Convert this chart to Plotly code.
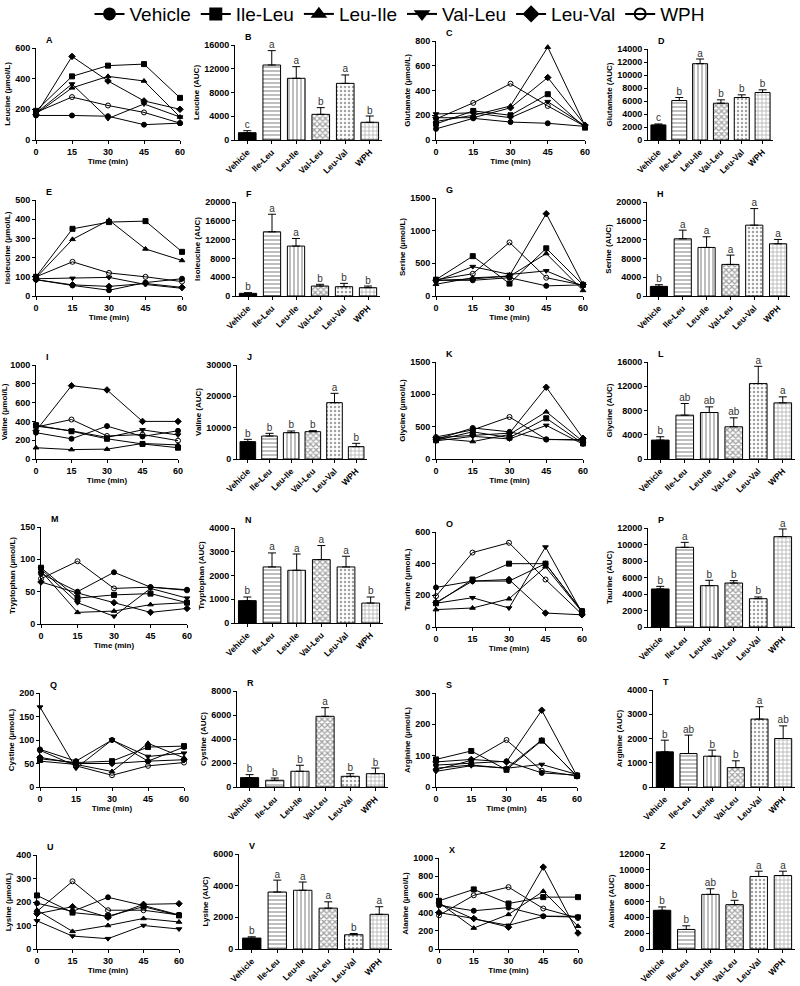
"""
Plasma amino acid time courses (µmol/L) and AUC bars after oral dipeptides.
24 panels in a 6 x 4 grid, GraphPad-like black & white styling.
"""
import plotly.graph_objects as go

# ── Groups, sampling times ────────────────────────────────────────────────
GROUPS = ["Vehicle", "Ile-Leu", "Leu-Ile", "Val-Leu", "Leu-Val", "WPH"]
TIMES = [0, 15, 30, 45, 60]

# ── Time-course values, one row per group (order as GROUPS) ───────────────
LEUCINE_T = [[160, 160, 155, 100, 110], [190, 415, 485, 495, 275], [170, 340, 415, 385, 150],
             [175, 365, 140, 235, 150], [165, 545, 385, 255, 200], [180, 280, 225, 180, 110]]
GLUTAMATE_T = [[90, 175, 145, 135, 110], [130, 235, 200, 370, 100], [150, 200, 275, 750, 115],
               [210, 220, 180, 310, 115], [180, 180, 260, 505, 120], [170, 300, 455, 275, 110]]
ISOLEUCINE_T = [[85, 55, 30, 70, 90], [100, 350, 385, 390, 230], [95, 295, 395, 245, 185],
                [90, 92, 97, 60, 40], [85, 58, 50, 65, 45], [100, 178, 120, 100, 75]]
SERINE_T = [[240, 240, 280, 155, 170], [250, 610, 190, 730, 170], [180, 280, 300, 650, 85],
            [230, 450, 330, 385, 150], [240, 260, 310, 1260, 175], [250, 340, 820, 280, 165]]
VALINE_T = [[280, 215, 350, 240, 300], [360, 295, 215, 160, 120], [120, 100, 105, 165, 150],
            [350, 300, 230, 310, 255], [300, 780, 735, 400, 400], [340, 420, 245, 260, 195]]
GLYCINE_T = [[300, 480, 420, 300, 300], [290, 420, 330, 630, 240], [320, 270, 380, 730, 270],
             [280, 350, 310, 520, 230], [330, 370, 400, 1110, 320], [340, 450, 650, 305, 290]]
TRYPTOPHAN_T = [[78, 50, 80, 57, 53], [87, 40, 45, 47, 33], [82, 18, 20, 30, 33],
                [85, 33, 12, 55, 40], [65, 48, 33, 18, 24], [70, 97, 55, 57, 52]]
TAURINE_T = [[250, 290, 290, 400, 100], [150, 300, 400, 400, 100], [110, 120, 178, 380, 95],
             [150, 185, 120, 505, 90], [155, 290, 300, 88, 77], [195, 470, 532, 300, 80]]
CYSTINE_T = [[80, 55, 100, 55, 85], [60, 52, 55, 85, 87], [55, 48, 33, 93, 62],
             [170, 40, 100, 65, 72], [63, 50, 50, 55, 58], [78, 45, 25, 45, 52]]
ARGININE_T = [[70, 75, 82, 45, 38], [88, 115, 55, 148, 35], [60, 70, 60, 150, 33],
              [50, 68, 60, 72, 40], [80, 88, 80, 245, 35], [55, 85, 150, 52, 35]]
LYSINE_T = [[195, 160, 220, 185, 145], [228, 155, 140, 180, 143], [165, 75, 100, 130, 115],
            [120, 55, 44, 100, 85], [150, 180, 135, 190, 193], [160, 288, 165, 165, 145]]
ALANINE_T = [[480, 420, 455, 360, 350], [530, 655, 500, 570, 570], [510, 230, 380, 635, 250],
             [500, 330, 260, 360, 360], [400, 335, 240, 900, 175], [370, 590, 680, 445, 340]]

# ── AUC means, SEM and significance letters ───────────────────────────────
LEUCINE_AUC = [1230, 12630, 10390, 4320, 9540, 2980]
LEUCINE_SEM = [340, 2420, 1960, 1130, 1410, 1060]
LEUCINE_SIG = ["c", "a", "a", "b", "a", "b"]
GLUTAMATE_AUC = [2320, 6070, 11740, 5660, 6540, 7310]
GLUTAMATE_SEM = [150, 470, 720, 520, 410, 410]
GLUTAMATE_SIG = ["c", "b", "a", "b", "b", "b"]
ISOLEUCINE_AUC = [570, 13660, 10620, 2120, 1980, 1770]
ISOLEUCINE_SEM = [140, 3740, 1620, 360, 710, 350]
ISOLEUCINE_SIG = ["b", "a", "a", "b", "b", "b"]
SERINE_AUC = [2050, 12170, 10330, 6720, 15070, 11110]
SERINE_SEM = [350, 1840, 2270, 1980, 3530, 920]
SERINE_SIG = ["b", "a", "a", "a", "a", "a"]
VALINE_AUC = [5530, 7340, 8400, 8720, 17980, 3940]
VALINE_SEM = [750, 850, 540, 320, 2980, 1060]
VALINE_SIG = ["b", "b", "b", "b", "a", "b"]
GLYCINE_AUC = [3120, 7230, 7670, 5310, 12440, 9260]
GLYCINE_SEM = [550, 1920, 930, 1480, 2850, 990]
GLYCINE_SIG = ["b", "ab", "ab", "ab", "a", "a"]
TRYPTOPHAN_AUC = [940, 2360, 2220, 2670, 2360, 840]
TRYPTOPHAN_SEM = [155, 590, 685, 590, 450, 255]
TRYPTOPHAN_SIG = ["b", "a", "a", "a", "a", "b"]
TAURINE_AUC = [4610, 9660, 5010, 5330, 3430, 10950]
TAURINE_SEM = [320, 600, 650, 290, 210, 930]
TAURINE_SIG = ["b", "a", "b", "b", "b", "a"]
CYSTINE_AUC = [780, 560, 1310, 5890, 890, 1110]
CYSTINE_SEM = [250, 190, 500, 720, 220, 470]
CYSTINE_SIG = ["b", "b", "b", "a", "b", "b"]
ARGININE_AUC = [1450, 1380, 1270, 800, 2800, 2000]
ARGININE_SEM = [480, 760, 250, 280, 510, 520]
ARGININE_SIG = ["b", "ab", "b", "b", "a", "ab"]
LYSINE_AUC = [690, 3600, 3710, 2580, 900, 2190]
LYSINE_SEM = [80, 750, 520, 400, 80, 480]
LYSINE_SIG = ["b", "a", "a", "a", "b", "a"]
ALANINE_AUC = [4890, 2470, 6900, 5600, 9160, 9280]
ALANINE_SEM = [420, 460, 710, 550, 670, 550]
ALANINE_SIG = ["b", "b", "ab", "b", "a", "a"]

# ── Styling ────────────────────────────────────────────────────────────────
W, H = 800, 986
FONT = "Liberation Sans, Arial, sans-serif"
SYMBOLS = ["circle", "square", "triangle-up", "triangle-down", "diamond", "circle-open"]
PATTERNS = ["", "-", "|", "x", ".", "+"]
SOLIDITY = [0.3, 0.35, 0.35, 0.55, 0.3, 0.3]
FILLS = ["black"] + ["white"] * 5

# (panel, kind, amino acid, data, y max, y dtick) in reading order
PANELS = [
    ("A", "line", "Leucine", LEUCINE_T, 600, 200),
    ("B", "bar", "Leucine", (LEUCINE_AUC, LEUCINE_SEM, LEUCINE_SIG), 16000, 4000),
    ("C", "line", "Glutamate", GLUTAMATE_T, 800, 200),
    ("D", "bar", "Glutamate", (GLUTAMATE_AUC, GLUTAMATE_SEM, GLUTAMATE_SIG), 14000, 2000),
    ("E", "line", "Isoleucine", ISOLEUCINE_T, 500, 100),
    ("F", "bar", "Isoleucine", (ISOLEUCINE_AUC, ISOLEUCINE_SEM, ISOLEUCINE_SIG), 20000, 4000),
    ("G", "line", "Serine", SERINE_T, 1500, 500),
    ("H", "bar", "Serine", (SERINE_AUC, SERINE_SEM, SERINE_SIG), 20000, 4000),
    ("I", "line", "Valine", VALINE_T, 1000, 200),
    ("J", "bar", "Valine", (VALINE_AUC, VALINE_SEM, VALINE_SIG), 30000, 10000),
    ("K", "line", "Glycine", GLYCINE_T, 1500, 500),
    ("L", "bar", "Glycine", (GLYCINE_AUC, GLYCINE_SEM, GLYCINE_SIG), 16000, 4000),
    ("M", "line", "Tryptophan", TRYPTOPHAN_T, 150, 50),
    ("N", "bar", "Tryptophan", (TRYPTOPHAN_AUC, TRYPTOPHAN_SEM, TRYPTOPHAN_SIG), 4000, 1000),
    ("O", "line", "Taurine", TAURINE_T, 600, 200),
    ("P", "bar", "Taurine", (TAURINE_AUC, TAURINE_SEM, TAURINE_SIG), 12000, 2000),
    ("Q", "line", "Cystine", CYSTINE_T, 200, 50),
    ("R", "bar", "Cystine", (CYSTINE_AUC, CYSTINE_SEM, CYSTINE_SIG), 8000, 2000),
    ("S", "line", "Arginine", ARGININE_T, 300, 100),
    ("T", "bar", "Arginine", (ARGININE_AUC, ARGININE_SEM, ARGININE_SIG), 4000, 1000),
    ("U", "line", "Lysine", LYSINE_T, 400, 100),
    ("V", "bar", "Lysine", (LYSINE_AUC, LYSINE_SEM, LYSINE_SIG), 6000, 2000),
    ("X", "line", "Alanine", ALANINE_T, 1000, 200),
    ("Z", "bar", "Alanine", (ALANINE_AUC, ALANINE_SEM, ALANINE_SIG), 12000, 2000),
]

# plot-area boxes in pixels: left, right, top, bottom
BOXES = {
    "A": (36, 180, 48, 140), "B": (235, 382, 45, 140), "C": (436, 585, 41, 140), "D": (648, 773, 49, 140),
    "E": (36, 182, 200, 296), "F": (236, 380, 202, 296), "G": (436, 583, 198, 296), "H": (647, 790, 202, 296),
    "I": (36, 178, 365, 459), "J": (237, 367, 365, 459), "K": (436, 583, 362, 459), "L": (648, 795, 362, 459),
    "M": (41, 187, 527, 624), "N": (235, 383, 528, 623), "O": (436, 582, 532, 627), "P": (648, 795, 528, 627),
    "Q": (40, 184, 693, 787), "R": (237, 388, 691, 787), "S": (436, 577, 693, 787), "T": (653, 795, 690, 787),
    "U": (37, 179, 855, 949), "V": (239, 392, 854, 949), "X": (439, 578, 858, 949), "Z": (650, 795, 854, 949),
}

TICKFONT = dict(family=FONT, size=9, color="black", weight="bold")
CATFONT = dict(family=FONT, size=8.5, color="black", weight="bold")
TITLEFONT = dict(family=FONT, size=8, color="black", weight="bold")


def _axis_common():
    return dict(showline=True, linecolor="black", linewidth=1, ticks="outside", ticklen=3,
                tickcolor="black", showgrid=False, zeroline=False, tickfont=TICKFONT,
                automargin=False)


fig = go.Figure()
layout = {}

for i, (letter, kind, name, data, ymax, dtick) in enumerate(PANELS, start=1):
    xa, ya = ("x", "y") if i == 1 else (f"x{i}", f"y{i}")
    x0, x1, top, bot = BOXES[letter]
    xdom = [x0 / W, x1 / W]
    ydom = [1 - bot / H, 1 - top / H]

    if kind == "line":
        for g, (grp, vals) in enumerate(zip(GROUPS, data)):
            fig.add_trace(go.Scatter(
                x=TIMES, y=vals, xaxis=xa, yaxis=ya, mode="lines+markers",
                line=dict(color="black", width=1),
                marker=dict(symbol=SYMBOLS[g], size=5, color="black",
                            line=dict(color="black", width=1)),
                cliponaxis=False, showlegend=False, name=grp,
            ))
        xaxis = dict(_axis_common(), range=[0, 60], tickvals=TIMES,
                     title=dict(text="Time (min)", font=TITLEFONT, standoff=2))
        ytitle = f"{name} (µmol/L)"
    else:
        auc, sem, sig = data
        fig.add_trace(go.Bar(
            x=GROUPS, y=auc, xaxis=xa, yaxis=ya, width=0.72,
            marker=dict(color=FILLS, line=dict(color="black", width=1),
                        pattern=dict(shape=PATTERNS, fgcolor="black", bgcolor="white",
                                     size=4, solidity=SOLIDITY)),
            error_y=dict(type="data", array=sem, arrayminus=[0] * len(sem), symmetric=False,
                         color="black", thickness=1, width=4),
            showlegend=False,
        ))
        fig.add_trace(go.Scatter(
            x=GROUPS, y=[a + s for a, s in zip(auc, sem)], xaxis=xa, yaxis=ya,
            mode="text", text=sig, textposition="top center",
            textfont=dict(family=FONT, size=10, color="#333"),
            cliponaxis=False, showlegend=False, hoverinfo="skip",
        ))
        xaxis = dict(_axis_common(), type="category", range=[-0.5, 5.5], tickangle=-45)
        xaxis["tickfont"] = CATFONT
        ytitle = f"{name} (AUC)"

    xaxis.update(domain=xdom, anchor=ya)
    yaxis = dict(_axis_common(), domain=ydom, anchor=xa, range=[0, ymax], dtick=dtick,
                 tickformat="d", title=dict(text=ytitle, font=TITLEFONT, standoff=3))
    layout["xaxis" if i == 1 else f"xaxis{i}"] = xaxis
    layout["yaxis" if i == 1 else f"yaxis{i}"] = yaxis

    fig.add_annotation(
        text=f"<b>{letter}</b>", xref="paper", yref="paper",
        x=(x0 + 8) / W, y=1 - (top - 8) / H, xanchor="left", yanchor="middle",
        showarrow=False, font=dict(family=FONT, size=9, color="black"),
    )

# legend-only traces so the legend markers are large
for g, grp in enumerate(GROUPS):
    fig.add_trace(go.Scatter(
        x=[None], y=[None], mode="lines+markers", name=grp,
        line=dict(color="black", width=2),
        marker=dict(symbol=SYMBOLS[g], size=11, color="black",
                    line=dict(color="black", width=2)),
    ))

fig.update_layout(
    **layout,
    width=W, height=H,
    margin=dict(l=0, r=0, t=0, b=0, autoexpand=False),
    paper_bgcolor="white", plot_bgcolor="white",
    font=dict(family=FONT, color="black"),
    bargap=0.2,
    legend=dict(orientation="h", x=0.5, xanchor="center", y=1.005, yanchor="top",
                font=dict(family=FONT, size=19, color="black"), itemwidth=30,
                bgcolor="rgba(0,0,0,0)"),
)

# drop the default 8px page margin so the figure sits at the window's corner
fig.write_html("out.html", config={"displayModeBar": False},
               post_script="document.body.style.margin = '0';")
